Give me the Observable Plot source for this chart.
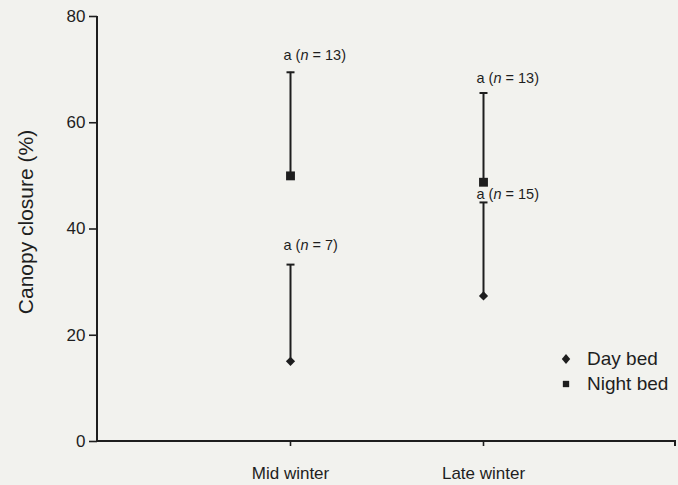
<!DOCTYPE html>
<html>
<head>
<meta charset="utf-8">
<script src="https://cdn.jsdelivr.net/npm/d3@7"></script>
<script src="https://cdn.jsdelivr.net/npm/@observablehq/plot@0.6"></script>
<style>
  html, body { margin: 0; padding: 0; background: #f2f2ee; }
  #wrap { position: relative; width: 678px; height: 485px; font-family: "Liberation Sans", Arial, sans-serif; color: #1e1e1e; }
  #legend { position: absolute; left: 559px; top: 346px; font-size: 19px; }
  #legend .item { display: flex; align-items: center; height: 25px; }
  #legend svg { width: 14px; height: 14px; margin-right: 14px; }
</style>
</head>
<body>
<div id="wrap"></div>
<script>
// ---- data ----
const periods = ["Mid winter", "Late winter"];
const bedTypes = ["Day bed", "Night bed"];
const dayMean = [15.1, 27.4];
const dayUpper = [33.3, 45.0];
const nightMean = [50.0, 48.8];
const nightUpper = [69.5, 65.6];
const dayN = [7, 15];
const nightN = [13, 13];
const groupLetter = ["a", "a"];           // significance letters (day, night)
const dayLabelAt = [36.0, 45.6];          // annotation anchor (data units)
const nightLabelAt = [71.9, 67.4];
const yTicks = [0, 20, 40, 60, 80];
const yLabel = "Canopy closure (%)";

const ink = "#1e1e1e";

const rows = [];
periods.forEach((p, i) => {
  rows.push({period: p, bed: bedTypes[0], mean: dayMean[i], upper: dayUpper[i], n: dayN[i], labelAt: dayLabelAt[i], letter: groupLetter[0]});
  rows.push({period: p, bed: bedTypes[1], mean: nightMean[i], upper: nightUpper[i], n: nightN[i], labelAt: nightLabelAt[i], letter: groupLetter[1]});
});

const capSymbol = {
  draw(context, size) {
    const r = Math.sqrt(size / Math.PI);
    context.moveTo(-r, 0);
    context.lineTo(r, 0);
  }
};
const rhombus = {
  draw(context, size) {
    const r = Math.sqrt(size / Math.PI);
    context.moveTo(0, -r);
    context.lineTo(r, 0);
    context.lineTo(0, r);
    context.lineTo(-r, 0);
    context.closePath();
  }
};

function axisLines(index, scales, values, dimensions) {
  const {width, marginLeft, marginRight} = dimensions;
  const y0 = scales.y(0);
  const yTop = scales.y(d3.max(yTicks));
  const g = d3.create("svg:g").attr("stroke", ink).attr("stroke-width", 2).attr("fill", "none");
  g.append("line").attr("x1", marginLeft).attr("x2", marginLeft).attr("y1", y0 + 1).attr("y2", yTop);
  g.append("line").attr("x1", marginLeft).attr("x2", width - marginRight).attr("y1", y0).attr("y2", y0);
  g.append("line").attr("x1", width - marginRight - 1).attr("x2", width - marginRight - 1).attr("y1", y0).attr("y2", y0 + 5);
  return g.node();
}

const chart = Plot.plot({
  width: 678,
  height: 485,
  marginLeft: 97,
  marginRight: 2,
  marginTop: 16,
  marginBottom: 44,
  style: {background: "transparent", fontFamily: "'Liberation Sans', Arial, sans-serif", color: ink},
  x: {type: "point", domain: periods, padding: 1},
  y: {domain: [0, 80]},
  marks: [
    Plot.axisY({ticks: yTicks, tickSize: 8, tickPadding: 4, fontSize: 17, strokeWidth: 1.6,
      label: yLabel, labelAnchor: "center", labelOffset: 79, labelArrow: "none"}),
    Plot.axisX({tickSize: 5, tickPadding: 20, fontSize: 17, strokeWidth: 1.6, label: null}),
    axisLines,
    Plot.ruleX(rows, {x: "period", y1: "mean", y2: "upper", stroke: ink, strokeWidth: 2}),
    Plot.dot(rows, {x: "period", y: "upper", symbol: capSymbol, r: 4, stroke: ink, strokeWidth: 2, fill: "none"}),
    Plot.dot(rows.filter(d => d.bed === bedTypes[0]), {x: "period", y: "mean", symbol: rhombus, r: 4.6, fill: ink, stroke: "none"}),
    Plot.dot(rows.filter(d => d.bed === bedTypes[1]), {x: "period", y: "mean", symbol: "square", r: 5, fill: ink, stroke: "none"}),
    Plot.text(rows, {x: "period", y: "labelAt", text: d => `${d.letter} (n = ${d.n})`,
      textAnchor: "start", lineAnchor: "bottom", dx: -7, fontSize: 14.5, fill: ink})
  ]
});

// italic "n" in annotations
chart.querySelectorAll('g[aria-label="text"] text').forEach(t => {
  const s = t.textContent;
  const i = s.indexOf("n");
  if (i < 0) return;
  t.textContent = "";
  const ns = "http://www.w3.org/2000/svg";
  const a = document.createElementNS(ns, "tspan"); a.textContent = s.slice(0, i);
  const b = document.createElementNS(ns, "tspan"); b.textContent = "n"; b.setAttribute("font-style", "italic");
  const c = document.createElementNS(ns, "tspan"); c.textContent = s.slice(i + 1);
  t.append(a, b, c);
});
// larger y-axis title
chart.querySelectorAll('g[aria-label="y-axis label"] text').forEach(t => {
  t.setAttribute("font-size", 21);
  t.setAttribute("dx", 7);
});

const wrap = document.getElementById("wrap");
wrap.appendChild(chart);

// legend
const legend = document.createElement("div");
legend.id = "legend";
const sym = {
  "Day bed": "M0,-5L4.2,0L0,5L-4.2,0Z",
  "Night bed": d3.symbol(d3.symbolSquare, 40)()
};
legend.innerHTML = bedTypes.map(b =>
  `<div class="item"><svg viewBox="-7 -7 14 14"><path d="${sym[b]}" fill="${ink}"/></svg><span>${b}</span></div>`
).join("");
wrap.appendChild(legend);
</script>
</body>
</html>
